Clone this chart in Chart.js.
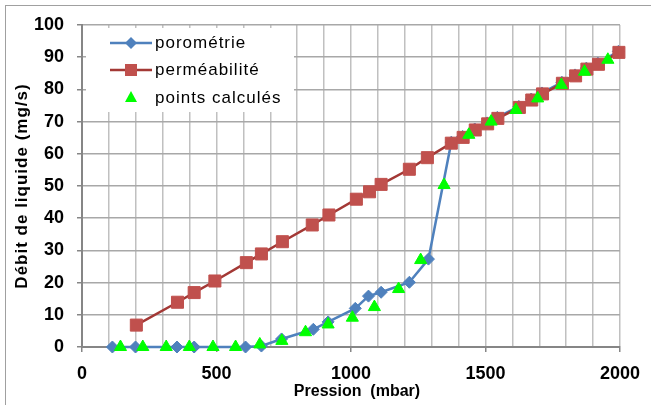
<!DOCTYPE html>
<html lang="fr">
<head>
  <meta charset="UTF-8" />
  <title>Débit de liquide vs pression</title>
  <script src="https://cdn.jsdelivr.net/npm/chart.js"></script>
  <style>
    body { margin: 0; background: #fff; }
  </style>
</head>
<body>
  <canvas id="chart" width="651" height="405"></canvas>

  <script>
    // porométrie (mbar, mg/s)
    const poroP = [113, 199, 353, 417, 608, 667, 742, 860, 915, 1016, 1065, 1112, 1217, 1288, 1373,
                   1415, 1460, 1506, 1544, 1624, 1670, 1710, 1784, 1833, 1875, 1918, 1994];
    const poroQ = [0, 0, 0, 0, 0, 0.3, 2.5, 5.5, 7.8, 12.0, 15.8, 17.0, 20.1, 27.3, 63.6,
                   65.4, 67.7, 69.6, 71.3, 74.7, 77.0, 78.9, 82.2, 84.5, 86.6, 88.1, 91.8];

    // perméabilité
    const permP = [202, 355, 417, 494, 611, 667, 745, 856, 918, 1020, 1069, 1112, 1217, 1284, 1373,
                   1417, 1462, 1508, 1546, 1626, 1672, 1712, 1786, 1835, 1877, 1920, 1996];
    const permQ = [6.8, 13.9, 16.9, 20.5, 26.2, 28.9, 32.7, 37.9, 41.0, 45.9, 48.2, 50.5, 55.2, 58.8, 63.3,
                   65.1, 67.4, 69.3, 71.0, 74.4, 76.7, 78.6, 81.9, 84.2, 86.3, 87.8, 91.5];

    // points calculés
    const calcP = [143, 226, 313, 399, 487, 571, 661, 743, 831, 915, 1005, 1087, 1177, 1259, 1346,
                   1438, 1521, 1613, 1694, 1782, 1868, 1955];
    const calcQ = [0, 0, 0, 0, 0, 0, 0.8, 1.9, 4.6, 7.0, 9.1, 12.4, 18.0, 27.0, 50.3,
                   65.9, 70.0, 73.6, 77.2, 81.4, 85.5, 89.2];

    const xTicks = [0, 500, 1000, 1500, 2000];

    const toXY = (xs, ys) => xs.map((x, i) => ({ x: x, y: ys[i] }));

    const FONT = "'Liberation Sans', Arial, sans-serif";
    const BLUE = "#4F81BD";
    const RED_LINE = "#A33835";
    const RED = "#C0504D";
    const GREEN = "#00FF00";

    // border, legend box, axis titles
    const decor = {
      id: "decor",
      beforeDraw(chart) {
        const ctx = chart.ctx;
        ctx.save();
        ctx.fillStyle = "#fff";
        ctx.fillRect(0, 0, chart.width, chart.height);
        ctx.strokeStyle = "#a0a0a0";
        ctx.lineWidth = 1;
        ctx.strokeRect(5.5, 5.5, 660, 420);
        ctx.restore();
      },
      beforeDatasetsDraw(chart) {
        const ctx = chart.ctx;
        ctx.save();
        ctx.fillStyle = "#fff";
        ctx.fillRect(86, 28, 208, 84);
        ctx.restore();
      },
      afterDraw(chart) {
        const ctx = chart.ctx;
        ctx.save();

        // legend
        const rows = [
          { label: "porométrie", y: 43, line: BLUE, style: "diamond", color: BLUE },
          { label: "perméabilité", y: 70, line: RED_LINE, style: "square", color: RED },
          { label: "points calculés", y: 98, line: null, style: "triangle", color: GREEN }
        ];
        rows.forEach(r => {
          if (r.line) {
            ctx.strokeStyle = r.line;
            ctx.lineWidth = 2.5;
            ctx.beginPath();
            ctx.moveTo(110, r.y);
            ctx.lineTo(152, r.y);
            ctx.stroke();
          }
          ctx.fillStyle = r.color;
          ctx.beginPath();
          const cx = 131, cy = r.y;
          if (r.style === "diamond") {
            ctx.moveTo(cx, cy - 6); ctx.lineTo(cx + 6, cy); ctx.lineTo(cx, cy + 6); ctx.lineTo(cx - 6, cy);
          } else if (r.style === "square") {
            ctx.rect(cx - 6, cy - 6, 12, 12);
          } else {
            ctx.moveTo(cx, cy - 7); ctx.lineTo(cx + 6, cy + 4); ctx.lineTo(cx - 6, cy + 4);
          }
          ctx.closePath();
          ctx.fill();

          ctx.fillStyle = "#000";
          ctx.font = "17px " + FONT;
          ctx.letterSpacing = "1px";
          ctx.textBaseline = "middle";
          ctx.textAlign = "left";
          ctx.fillText(r.label, 155, r.y);
          ctx.letterSpacing = "0px";
        });

        // axis titles
        ctx.fillStyle = "#000";
        ctx.font = "bold 16px " + FONT;
        ctx.textAlign = "center";
        ctx.textBaseline = "middle";
        ctx.fillText("Pression  (mbar)", 357, 392);

        ctx.font = "bold 17px " + FONT;
        ctx.letterSpacing = "1px";
        ctx.translate(22, 186);
        ctx.rotate(-Math.PI / 2);
        ctx.fillText("Débit de liquide (mg/s)", 0, 0);
        ctx.letterSpacing = "0px";
        ctx.restore();
      }
    };

    new Chart(document.getElementById("chart"), {
      type: "scatter",
      data: {
        datasets: [
          {
            label: "porométrie",
            data: toXY(poroP, poroQ),
            showLine: true,
            borderColor: BLUE,
            borderWidth: 2.5,
            backgroundColor: BLUE,
            pointStyle: "rectRot",
            pointRadius: 6,
            pointBorderWidth: 1,
            pointBorderColor: BLUE,
            pointBackgroundColor: BLUE,
            clip: false,
            order: 3
          },
          {
            label: "perméabilité",
            data: toXY(permP, permQ),
            showLine: true,
            borderColor: RED_LINE,
            borderWidth: 2.5,
            backgroundColor: RED,
            pointStyle: "rect",
            pointRadius: 8.5,
            pointBorderWidth: 1,
            pointBorderColor: RED,
            pointBackgroundColor: RED,
            clip: false,
            order: 2
          },
          {
            label: "points calculés",
            data: toXY(calcP, calcQ),
            showLine: false,
            backgroundColor: GREEN,
            pointStyle: "triangle",
            pointRadius: 7,
            pointBorderWidth: 1,
            pointBorderColor: GREEN,
            pointBackgroundColor: GREEN,
            clip: false,
            order: 1
          }
        ]
      },
      options: {
        responsive: false,
        animation: false,
        layout: { padding: { top: 25, right: 27, left: 0, bottom: 0 } },
        plugins: {
          legend: { display: false },
          tooltip: { enabled: false }
        },
        scales: {
          x: {
            type: "linear",
            min: 0,
            max: 2000,
            afterFit(s) { s.height = 58; },
            ticks: {
              stepSize: 100,
              autoSkip: false,
              maxRotation: 0,
              padding: 11,
              color: "#000",
              font: { family: FONT, size: 18, weight: "bold" },
              callback: v => xTicks.includes(v) ? v : ""
            },
            grid: {
              color: "#c0c0c0",
              lineWidth: 1.5,
              tickLength: 5,
              tickColor: c => (c.tick && xTicks.includes(c.tick.value)) ? "#868686" : "rgba(0,0,0,0)"
            },
            border: { color: "#868686", width: 2 }
          },
          y: {
            min: 0,
            max: 100,
            afterFit(s) { s.width = 82; },
            ticks: {
              stepSize: 10,
              padding: 13,
              color: "#000",
              font: { family: FONT, size: 18, weight: "bold" }
            },
            grid: {
              color: "#a8a8a8",
              lineWidth: 1.5,
              tickLength: 5,
              tickColor: "#868686"
            },
            border: { color: "#868686", width: 2 }
          }
        }
      },
      plugins: [decor]
    });
  </script>
</body>
</html>
